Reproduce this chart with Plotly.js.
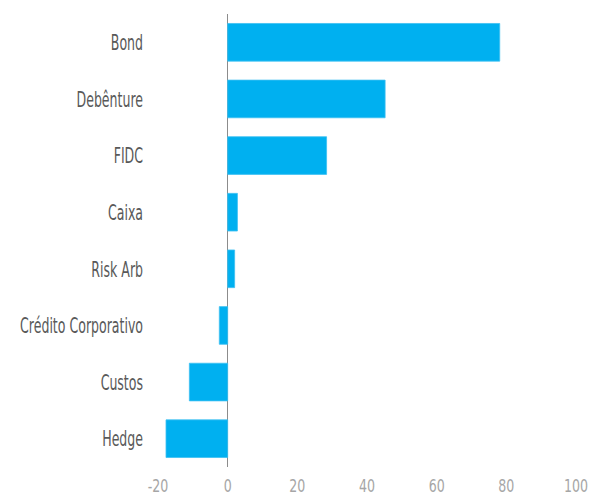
<!DOCTYPE html>
<html>
<head>
<meta charset="utf-8">
<script src="https://cdn.plot.ly/plotly-3.0.1.min.js"></script>
<style>
html,body{margin:0;padding:0;background:#fff;}
#chart{width:592px;height:497px;}
</style>
</head>
<body>
<div id="chart"></div>
<script>
const categories = ["Bond", "Debênture", "FIDC", "Caixa", "Risk Arb", "Crédito Corporativo", "Custos", "Hedge"];
const values = [78.1, 45.2, 28.4, 2.8, 2.0, -2.4, -11.0, -17.7];
const xTicks = [-20, 0, 20, 40, 60, 80, 100];

const trace = {
  type: "bar",
  orientation: "h",
  y: categories,
  x: values,
  marker: {color: "#00b0f0", line: {color: "#3cc0f2", width: 0.8}},
  hoverinfo: "x+y"
};

const layout = {
  width: 592,
  height: 497,
  margin: {l: 158, r: 16, t: 14, b: 30},
  paper_bgcolor: "#fff",
  plot_bgcolor: "#fff",
  showlegend: false,
  bargap: 0.335,
  font: {family: "'DejaVu Sans', sans-serif"},
  xaxis: {
    range: [-20, 100],
    tickvals: xTicks,
    ticktext: xTicks.map(String),
    showgrid: false,
    zeroline: true,
    zerolinecolor: "#8c8c8c",
    zerolinewidth: 1.5,
    showline: false,
    ticks: "",
    ticklabeloverflow: "allow",
    ticklabelstandoff: 6,
    tickfont: {size: 18, color: "#a6a6a6"},
    fixedrange: true
  },
  yaxis: {
    autorange: "reversed",
    type: "category",
    showgrid: false,
    zeroline: false,
    showline: false,
    ticks: "",
    ticklabelstandoff: 14,
    tickfont: {size: 22, color: "#595959"},
    fixedrange: true
  }
};

// narrow the glyphs to mimic the condensed typeface of the original
function condense(gd, selector, factor) {
  gd.querySelectorAll(selector).forEach(function (t) {
    const w = t.getComputedTextLength();
    t.setAttribute("textLength", (w * factor).toFixed(2));
    t.setAttribute("lengthAdjust", "spacingAndGlyphs");
  });
}

Plotly.newPlot("chart", [trace], layout, {displayModeBar: false, staticPlot: true}).then(function (gd) {
  condense(gd, ".ytick text", 0.57);
  condense(gd, ".xtick text", 0.7);
});
</script>
</body>
</html>
